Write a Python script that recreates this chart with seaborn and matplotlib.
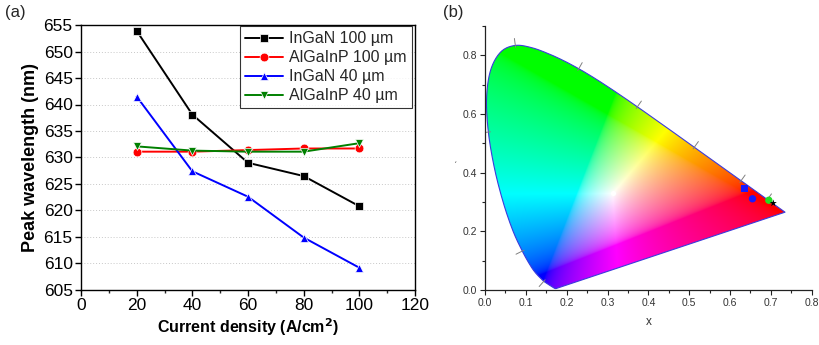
import numpy as np
import pandas as pd
import matplotlib
matplotlib.use("Agg")
import matplotlib.pyplot as plt
from matplotlib.patches import Polygon
from matplotlib.ticker import MultipleLocator, FormatStrFormatter
import seaborn as sns

sns.set_theme(style="white")
plt.rcParams['font.family'] = ['Liberation Sans', 'DejaVu Sans']

# ---------------- data (panel a) ----------------
current = [20, 40, 60, 80, 100]
ingan_100 = [653.9, 638.1, 629.0, 626.5, 620.8]
algainp_100 = [631.1, 631.1, 631.4, 631.7, 631.7]
ingan_40 = [641.5, 627.4, 622.6, 614.9, 609.2]
algainp_40 = [632.1, 631.3, 631.1, 631.1, 632.7]
series_names = ["InGaN 100 µm", "AlGaInP 100 µm", "InGaN 40 µm", "AlGaInP 40 µm"]
series_colors = ["#000000", "#ff0000", "#0000ff", "#008000"]
series_markers = ["s", "o", "^", "v"]

# ---------------- data (panel b) ----------------
# CIE 1931 spectral locus (wavelength nm, x, y)
locus_wl = [380, 400, 420, 430, 440, 450, 460, 470, 475, 480, 485, 490, 495, 500, 505,
            510, 515, 520, 525, 530, 535, 540, 545, 550, 555, 560, 565, 570, 575, 580,
            585, 590, 595, 600, 605, 610, 620, 630, 640, 650, 660, 680, 700]
locus_x = [0.1741, 0.1733, 0.1714, 0.1689, 0.1644, 0.1566, 0.1440, 0.1241, 0.1096, 0.0913,
           0.0687, 0.0454, 0.0235, 0.0082, 0.0039, 0.0139, 0.0389, 0.0743, 0.1142, 0.1547,
           0.1929, 0.2296, 0.2658, 0.3016, 0.3373, 0.3731, 0.4087, 0.4441, 0.4788, 0.5125,
           0.5448, 0.5752, 0.6029, 0.6270, 0.6482, 0.6658, 0.6915, 0.7079, 0.7190, 0.7260,
           0.7300, 0.7334, 0.7347]
locus_y = [0.0050, 0.0048, 0.0051, 0.0069, 0.0109, 0.0177, 0.0297, 0.0578, 0.0868, 0.1327,
           0.2007, 0.2950, 0.4127, 0.5384, 0.6548, 0.7502, 0.8120, 0.8338, 0.8262, 0.8059,
           0.7816, 0.7543, 0.7243, 0.6923, 0.6589, 0.6245, 0.5896, 0.5547, 0.5202, 0.4866,
           0.4544, 0.4242, 0.3965, 0.3725, 0.3514, 0.3340, 0.3083, 0.2920, 0.2809, 0.2740,
           0.2700, 0.2666, 0.2653]
locus_tick_wl = [460, 480, 500, 520, 540, 560, 580, 600, 620]
white_xy = (0.3127, 0.3290)

cie_labels = ["InGaN 100 µm", "AlGaInP 100 µm", "AlGaInP 40 µm", "InGaN 40 µm"]
cie_x = [0.636, 0.655, 0.695, 0.706]
cie_y = [0.345, 0.311, 0.306, 0.296]
cie_colors = ["#1a1aff", "#1a1aff", "#22dd22", "#000000"]
cie_markers = ["s", "o", "o", "*"]


def smooth_outline(xs, ys, n=12):
    """Catmull-Rom smoothing of the outline geometry (drawing only)."""
    P = np.column_stack([xs, ys])
    P = np.vstack([P[0], P, P[-1]])
    out = []
    for i in range(1, len(P) - 2):
        p0, p1, p2, p3 = P[i - 1], P[i], P[i + 1], P[i + 2]
        for t in np.linspace(0, 1, n, endpoint=False):
            t2, t3 = t * t, t * t * t
            out.append(0.5 * ((2 * p1) + (-p0 + p2) * t +
                              (2 * p0 - 5 * p1 + 4 * p2 - p3) * t2 +
                              (-p0 + 3 * p1 - 3 * p2 + p3) * t3))
    out.append(P[-2])
    return np.array(out)


# ---------------- figure ----------------
W, H = 819, 345
fig = plt.figure(figsize=(W / 100, H / 100), dpi=100)
fig.patch.set_facecolor("white")

# ---- panel (a) ----
ax1 = fig.add_axes([81 / W, 55 / H, (415 - 81) / W, (290 - 25) / H])
df = pd.DataFrame({
    "Current": current * 4,
    "Wavelength": ingan_100 + algainp_100 + ingan_40 + algainp_40,
    "Series": sum([[n] * len(current) for n in series_names], []),
})
sns.lineplot(data=df, x="Current", y="Wavelength", hue="Series", style="Series",
             hue_order=series_names, style_order=series_names,
             palette=series_colors, markers=series_markers, dashes=False,
             markersize=6.3, linewidth=1.4, markeredgewidth=0.5, ax=ax1)
ax1.set_xlim(0, 120)
ax1.set_ylim(605, 655)
ax1.xaxis.set_major_locator(MultipleLocator(20))
ax1.xaxis.set_minor_locator(MultipleLocator(10))
ax1.yaxis.set_major_locator(MultipleLocator(5))
for v in range(610, 655, 5):
    ax1.axhline(v, color="#c8c8c8", lw=0.7, ls=(0, (1, 2)), zorder=0)
for s in ax1.spines.values():
    s.set_color("black")
    s.set_linewidth(1.0)
ax1.tick_params(axis="both", which="major", direction="out", length=4, width=1,
                labelsize=12.5, color="black", labelcolor="black", pad=2,
                bottom=True, left=True)
ax1.tick_params(axis="x", which="minor", direction="out", length=2.5, width=1, bottom=True)
ax1.set_xlabel("Current density (A/cm$^\\mathbf{2}$)", fontsize=11.5, fontweight="bold",
               labelpad=2, color="black")
ax1.set_ylabel("Peak wavelength (nm)", fontsize=13, fontweight="bold", labelpad=3,
               color="black")
leg = ax1.legend(loc="upper right", bbox_to_anchor=(0.99, 0.995), fontsize=11.5,
                 frameon=True, fancybox=False, edgecolor="black", handlelength=2.4,
                 borderpad=0.3, labelspacing=0.25, handletextpad=0.4, borderaxespad=0.0)
leg.get_frame().set_linewidth(0.8)
fig.text(5 / W, 1 - 12 / H, "(a)", fontsize=12, va="center", ha="left")

# ---- panel (b) ----
ax2 = fig.add_axes([485 / W, 55 / H, (811.7 - 485) / W, (290 - 26) / H])
ax2.set_xlim(0, 0.8)
ax2.set_ylim(0, 0.9)

# chromaticity colour field
nx, ny = 500, 560
gx = np.linspace(0.0005, 0.8, nx)
gy = np.linspace(0.0005, 0.9, ny)
X, Y = np.meshgrid(gx, gy)
Z = 1 - X - Y
XYZ = np.stack([X / Y, np.ones_like(X), Z / Y], axis=-1)
M = np.array([[3.2406, -1.5372, -0.4986],
              [-0.9689, 1.8758, 0.0415],
              [0.0557, -0.2040, 1.0570]])
rgb = XYZ @ M.T
rgb = np.clip(rgb, 0, None)
rgb = rgb / np.maximum(rgb.max(axis=-1, keepdims=True), 1e-9)
rgb = np.where(rgb <= 0.0031308, 12.92 * rgb, 1.055 * np.power(rgb, 1 / 2.4) - 0.055)
rgb = np.clip(rgb, 0, 1)
im = ax2.imshow(rgb, extent=[gx[0], gx[-1], gy[0], gy[-1]], origin="lower",
                aspect="auto", interpolation="bilinear", zorder=1)
outline = smooth_outline(locus_x, locus_y)
poly = Polygon(outline, closed=True, transform=ax2.transData,
               facecolor="none", edgecolor="none")
ax2.add_patch(poly)
im.set_clip_path(poly)
ax2.plot(np.append(outline[:, 0], outline[0, 0]), np.append(outline[:, 1], outline[0, 1]),
         color="#3b3bdd", lw=0.8, zorder=2)

# wavelength ticks along the locus
sx, sy = 408.0, 293.0
for wl in locus_tick_wl:
    i = locus_wl.index(wl)
    p = np.array([locus_x[i] * sx, locus_y[i] * sy])
    a = np.array([locus_x[i - 1] * sx, locus_y[i - 1] * sy])
    b = np.array([locus_x[i + 1] * sx, locus_y[i + 1] * sy])
    t = b - a
    nrm = np.array([-t[1], t[0]])
    nrm /= np.linalg.norm(nrm)
    wp = np.array([white_xy[0] * sx, white_xy[1] * sy])
    if np.dot(nrm, p - wp) < 0:
        nrm = -nrm
    p0 = p - 2 * nrm
    p1 = p + 7 * nrm
    ax2.plot([p0[0] / sx, p1[0] / sx], [p0[1] / sy, p1[1] / sy], color="#808080",
             lw=0.7, zorder=2)

ax2.scatter([white_xy[0]], [white_xy[1]], s=14, color="white", zorder=3, linewidths=0)
cdf = pd.DataFrame({"x": cie_x, "y": cie_y, "label": cie_labels})
sns.scatterplot(data=cdf, x="x", y="y", hue="label", style="label",
                hue_order=cie_labels, style_order=cie_labels,
                palette=cie_colors, markers=cie_markers, s=28, linewidth=0,
                legend=False, ax=ax2, zorder=4)

ax2.xaxis.set_major_locator(MultipleLocator(0.1))
ax2.xaxis.set_minor_locator(MultipleLocator(0.05))
ax2.yaxis.set_major_locator(MultipleLocator(0.2))
ax2.yaxis.set_minor_locator(MultipleLocator(0.1))
ax2.xaxis.set_major_formatter(FormatStrFormatter("%.1f"))
ax2.yaxis.set_major_formatter(FormatStrFormatter("%.1f"))
for side in ["top", "right"]:
    ax2.spines[side].set_visible(False)
for side in ["left", "bottom"]:
    ax2.spines[side].set_color("#222222")
    ax2.spines[side].set_linewidth(0.9)
ax2.tick_params(axis="both", which="major", direction="out", length=3.5, width=0.8,
                labelsize=7.5, color="#222222", labelcolor="#333333", pad=2,
                bottom=True, left=True)
ax2.tick_params(axis="both", which="minor", direction="out", length=2, width=0.8,
                color="#222222", bottom=True, left=True)
ax2.set_xlabel("x", fontsize=8.5, color="#333333", labelpad=6)
ax2.set_ylabel("")
fig.text(455 / W, 1 - 167 / H, "ˊ", fontsize=7, color="#555555", ha="center", va="center")
fig.text(443 / W, 1 - 12 / H, "(b)", fontsize=12, va="center", ha="left")

fig.savefig("out.png", dpi=100, facecolor="white")
